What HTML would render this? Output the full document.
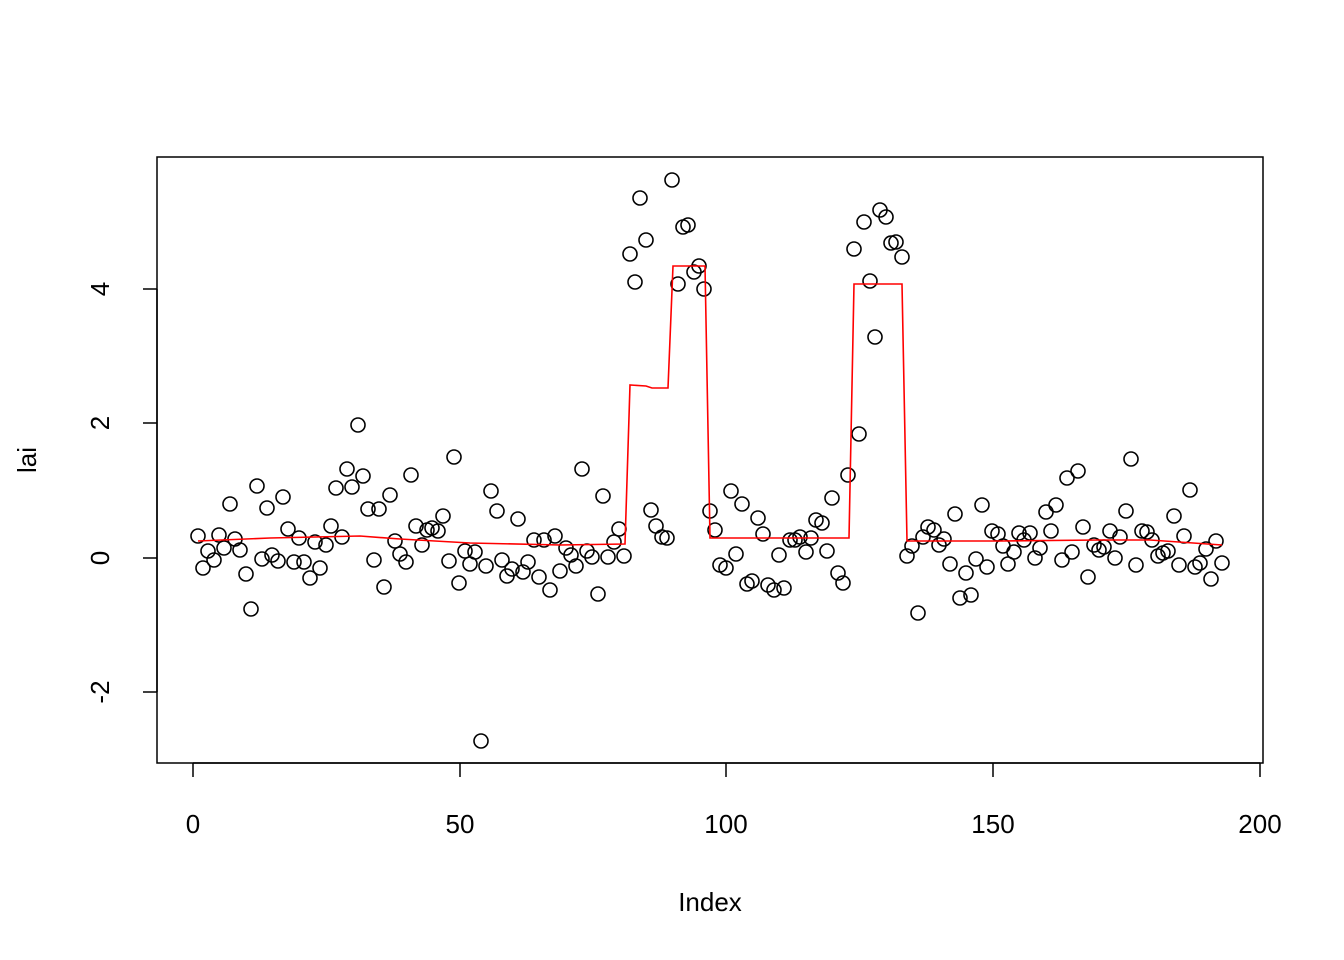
<!DOCTYPE html>
<html><head><meta charset="utf-8"><style>body{margin:0;background:#fff}svg{display:block}</style></head><body>
<svg id="s" width="1344" height="960" xmlns="http://www.w3.org/2000/svg" font-family="Liberation Sans, sans-serif">
<rect width="1344" height="960" fill="#fff"/>
<rect x="157" y="157" width="1106" height="606" fill="none" stroke="#000" stroke-width="1.5"/>
<g stroke="#000" stroke-width="1.5">
<line x1="193" y1="763" x2="1260" y2="763"/>
<line x1="193" y1="763" x2="193" y2="777"/><line x1="460" y1="763" x2="460" y2="777"/><line x1="726" y1="763" x2="726" y2="777"/><line x1="993" y1="763" x2="993" y2="777"/><line x1="1260" y1="763" x2="1260" y2="777"/>
<line x1="157" y1="289" x2="157" y2="692"/>
<line x1="143" y1="289" x2="157" y2="289"/><line x1="143" y1="423" x2="157" y2="423"/><line x1="143" y1="558" x2="157" y2="558"/><line x1="143" y1="692" x2="157" y2="692"/>
</g>
<g font-size="26" text-anchor="middle">
<text x="193" y="833">0</text><text x="460" y="833">50</text><text x="726" y="833">100</text><text x="993" y="833">150</text><text x="1260" y="833">200</text>
<text x="710" y="911">Index</text>
<text transform="translate(109,289) rotate(-90)">4</text>
<text transform="translate(109,423) rotate(-90)">2</text>
<text transform="translate(109,558) rotate(-90)">0</text>
<text transform="translate(109,692) rotate(-90)">-2</text>
<text transform="translate(36,460) rotate(-90)">lai</text>
</g>
<g id="pts" fill="none" stroke="#000" stroke-width="1.6"></g>
<polyline fill="none" stroke="#f00" stroke-width="1.6" points="198,541 270,538 360,536 400,539 470,543 560,545 625,544 630,385 646,386 652,388 668,388 673,266 705,266 710,538 849,538 854,284 902,284 907,541 1000,541 1100,540 1150,540 1222,545"/>
</svg>
<script>
var p=[198,536,203,568,208,551,214,560,219,535,224,548,230,504,235,539,240,550,246,574,251,609,257,486,262,559,267,508,272,555,278,561,283,497,288,529,294,562,299,538,304,562,310,578,315,542,320,568,326,545,331,526,336,488,342,537,347,469,352,487,358,425,363,476,368,509,374,560,379,509,384,587,390,495,395,541,400,554,406,562,411,475,416,526,422,545,427,530,432,528,438,531,443,516,449,561,454,457,459,583,465,551,470,564,475,552,481,741,486,566,491,491,497,511,502,560,507,576,512,569,518,519,523,572,528,562,534,540,539,577,544,540,550,590,555,536,560,571,566,548,571,555,576,566,582,469,587,551,592,557,598,594,603,496,608,557,614,542,619,529,624,556,630,254,635,282,640,198,646,240,651,510,656,526,662,537,667,538,672,180,678,284,683,227,688,225,694,272,699,266,704,289,710,511,715,530,720,565,726,568,731,491,736,554,742,504,747,584,752,581,758,518,763,534,768,585,774,590,779,555,784,588,790,540,795,540,800,537,806,552,811,538,816,520,822,523,827,551,832,498,838,573,843,583,848,475,854,249,859,434,864,222,870,281,875,337,880,210,886,217,891,243,896,242,902,257,907,556,912,546,918,613,923,537,928,527,934,530,939,545,944,539,950,564,955,514,960,598,966,573,971,595,976,559,982,505,987,567,992,531,998,534,1003,546,1008,564,1014,552,1019,533,1024,540,1030,533,1035,558,1040,548,1046,512,1051,531,1056,505,1062,560,1067,478,1072,552,1078,471,1083,527,1088,577,1094,545,1099,550,1104,547,1110,531,1115,558,1120,537,1126,511,1131,459,1136,565,1142,531,1147,532,1152,540,1158,556,1163,553,1168,551,1174,516,1179,565,1184,536,1190,490,1195,567,1200,563,1206,549,1211,579,1216,541,1222,563];
var g=document.getElementById('pts'),h='';
for(var i=0;i<p.length;i+=2)h+='<circle cx="'+p[i]+'" cy="'+p[i+1]+'" r="7"/>';
g.innerHTML=h;
</script>
</body></html>
